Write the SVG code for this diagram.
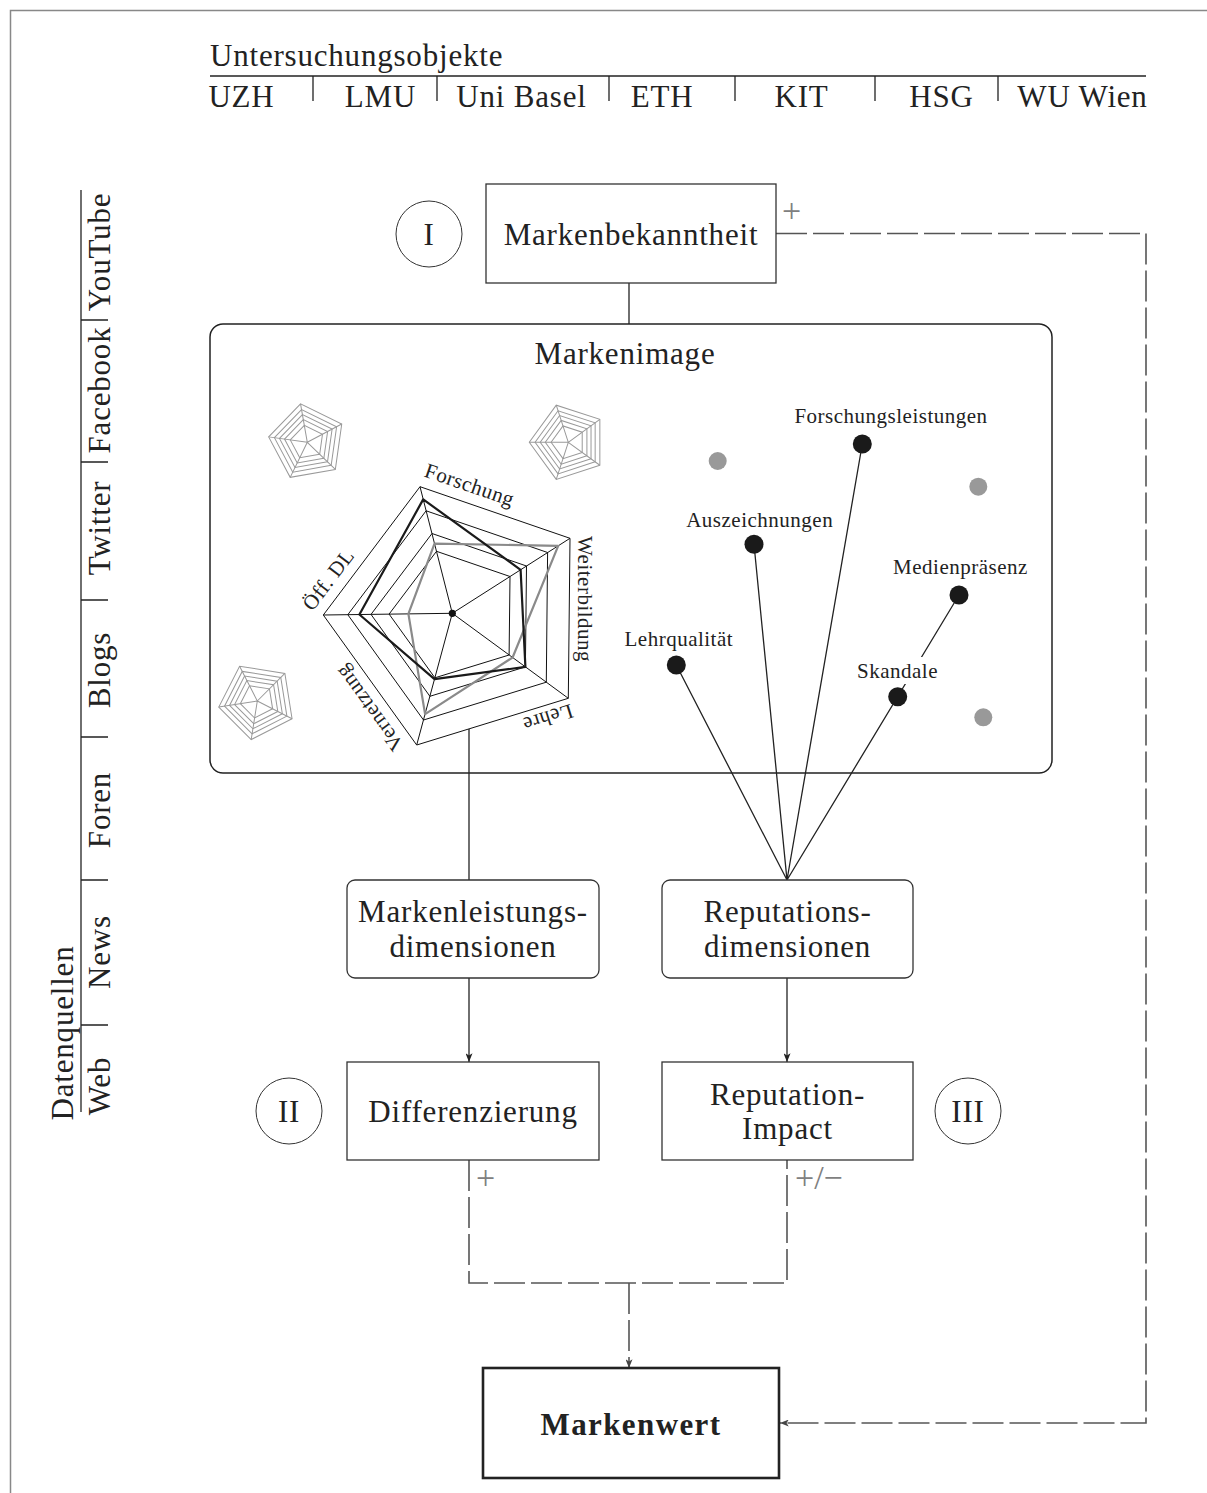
<svg xmlns="http://www.w3.org/2000/svg" width="1207" height="1493" viewBox="0 0 1207 1493">
  <defs>
    <style>
      text { font-family: "Liberation Serif", "Times New Roman", serif; fill: #222; }
      .lg { font-size: 31px; letter-spacing: 0.8px; }
      .sm { font-size: 21px; letter-spacing: 0.5px; }
      .mid { text-anchor: middle; }
      .bold { font-weight: bold; letter-spacing: 1.4px; }
      .ln { stroke: #222; stroke-width: 1.3; fill: none; }
      .dash { stroke: #555; stroke-width: 1.6; fill: none; stroke-dasharray: 31 6; }
      .box { fill: #fff; stroke: #333; stroke-width: 1.3; }
      .circ { fill: #fff; stroke: #333; stroke-width: 1; }
      .sign { fill: #808080; font-size: 34px; }
      .ring { fill: none; stroke: #111; stroke-width: 1; }
      .mini { fill: none; stroke: #999; stroke-width: 1; }
      .frame { fill: none; stroke: #888; stroke-width: 1.5; }
    </style>
    <marker id="ah" viewBox="0 0 10 8" refX="10" refY="4" markerWidth="9" markerHeight="7" orient="auto" markerUnits="userSpaceOnUse">
      <path d="M0,0 L10,4 L0,8 L2.5,4 z" fill="#222"/>
    </marker>
    <marker id="ahg" viewBox="0 0 10 8" refX="10" refY="4" markerWidth="9" markerHeight="7" orient="auto" markerUnits="userSpaceOnUse">
      <path d="M0,0 L10,4 L0,8 L2.5,4 z" fill="#444"/>
    </marker>
    <!-- small decorative spider chart, vertex at angle 0 -->
    <g id="miniRadar" class="mini">
      <polygon points="39,0 12.05,37.09 -31.55,22.93 -31.55,-22.93 12.05,-37.09"/>
      <polygon points="33.2,0 10.26,31.57 -26.86,19.52 -26.86,-19.52 10.26,-31.57"/>
      <polygon points="28.1,0 8.68,26.72 -22.73,16.52 -22.73,-16.52 8.68,-26.72"/>
      <polygon points="23,0 7.11,21.87 -18.61,13.52 -18.61,-13.52 7.11,-21.87"/>
      <polygon points="17.2,0 5.31,16.36 -13.91,10.11 -13.91,-10.11 5.31,-16.36"/>
      <path d="M0 0L39 0M0 0L12.05 37.09M0 0L-31.55 22.93M0 0L-31.55 -22.93M0 0L12.05 -37.09"/>
    </g>
  </defs>

  <rect width="1207" height="1493" fill="#fff"/>
  <path class="frame" d="M10.5 1493 V10.5 H1207"/>

  <!-- header: institutions -->
  <g id="untersuchungsobjekte">
    <text class="lg" x="210" y="66">Untersuchungsobjekte</text>
    <line class="ln" x1="210" y1="76" x2="1146" y2="76"/>
    <path class="ln" d="M313 76V101M437 76V101M609 76V101M735 76V101M875 76V101M998 76V101"/>
    <text class="lg mid" x="241.5" y="107">UZH</text>
    <text class="lg mid" x="380.5" y="107">LMU</text>
    <text class="lg mid" x="521.5" y="107">Uni Basel</text>
    <text class="lg mid" x="662" y="107">ETH</text>
    <text class="lg mid" x="801.5" y="107">KIT</text>
    <text class="lg mid" x="941.5" y="107">HSG</text>
    <text class="lg mid" x="1082.5" y="107">WU Wien</text>
  </g>

  <!-- left column: data sources -->
  <g id="datenquellen">
    <line class="ln" x1="81" y1="190" x2="81" y2="1112"/>
    <path class="ln" d="M81 320H108M81 462H108M81 600H108M81 737H108M81 880H108M81 1025H108"/>
    <text class="lg mid" transform="translate(73,1033) rotate(-90)">Datenquellen</text>
    <text class="lg mid" transform="translate(110,252) rotate(-90)">YouTube</text>
    <text class="lg mid" transform="translate(110,390) rotate(-90)">Facebook</text>
    <text class="lg mid" transform="translate(110,528) rotate(-90)">Twitter</text>
    <text class="lg mid" transform="translate(110,670) rotate(-90)">Blogs</text>
    <text class="lg mid" transform="translate(110,810) rotate(-90)">Foren</text>
    <text class="lg mid" transform="translate(110,952) rotate(-90)">News</text>
    <text class="lg mid" transform="translate(110,1086) rotate(-90)">Web</text>
  </g>

  <!-- connectors -->
  <g id="connectors">
    <line class="ln" x1="629" y1="283" x2="629" y2="324"/>
    <line class="ln" x1="469" y1="729" x2="469" y2="880"/>
    <path class="ln" d="M676.3 665L787 880M754 544.3L787 880M862.3 444L787 880M959 595L787 880"/>
    <line class="ln" x1="469" y1="978" x2="469" y2="1062" marker-end="url(#ah)"/>
    <line class="ln" x1="787" y1="978" x2="787" y2="1062" marker-end="url(#ah)"/>
    <path class="dash" d="M469 1160V1283H787V1160"/>
    <path class="dash" d="M629 1283V1368" marker-end="url(#ahg)"/>
    <path class="dash" d="M776 233.5H1146V1423H780" marker-end="url(#ahg)"/>
    <text class="sign" x="782" y="222">+</text>
    <text class="sign" x="476" y="1189">+</text>
    <text class="sign" x="795" y="1189">+/−</text>
  </g>

  <!-- brand awareness -->
  <g id="markenbekanntheit">
    <circle class="circ" cx="429" cy="234" r="33"/>
    <text class="lg mid" x="429" y="245">I</text>
    <rect class="box" x="486" y="184" width="290" height="99"/>
    <text class="lg mid" x="631" y="245">Markenbekanntheit</text>
  </g>

  <!-- brand image panel -->
  <g id="markenimage">
    <rect x="210" y="324" width="842" height="449" rx="13" fill="none" stroke="#222" stroke-width="1.5"/>
    <text class="lg mid" x="625" y="364">Markenimage</text>

    <use href="#miniRadar" transform="translate(307.3,442.3) rotate(44)"/>
    <use href="#miniRadar" transform="translate(568.3,442.3) rotate(36)"/>
    <use href="#miniRadar" transform="translate(257.3,701) rotate(27)"/>

    <!-- main spider chart -->
    <g id="spider">
      <polygon class="ring" points="420,486.7 570,538.3 568.3,698.3 416.7,745 323.3,615"/>
      <polygon class="ring" points="426.1,510.8 547.6,552.5 546.3,682.2 423.5,720 347.8,614.7"/>
      <polygon class="ring" points="432,533.5 526.5,566 525.4,666.9 429.9,696.3 371,614.4"/>
      <polygon class="ring" points="436.5,551.3 510,576.5 509.1,655 434.9,677.8 389.1,614.1"/>
      <path class="ring" d="M452.3 613.3L420 486.7M452.3 613.3L570 538.3M452.3 613.3L568.3 698.3M452.3 613.3L416.7 745M452.3 613.3L323.3 615"/>
      <polygon points="434.5,543.7 558.2,545.8 512.6,657.5 425.1,714.1 408.4,613.9" fill="none" stroke="#8a8a8a" stroke-width="2.2" stroke-linejoin="round"/>
      <polygon points="423.2,499.4 520.6,569.8 525.4,666.9 434.5,679.2 359.4,614.5" fill="none" stroke="#1a1a1a" stroke-width="2.2" stroke-linejoin="round"/>
      <circle cx="452.3" cy="613.3" r="3.6" fill="#111"/>
      <text class="sm mid" transform="translate(467.4,491.4) rotate(19)">Forschung</text>
      <text class="sm mid" transform="translate(578,599) rotate(90)">Weiterbildung</text>
      <text class="sm mid" transform="translate(546,711.3) rotate(162.7)">Lehre</text>
      <text class="sm mid" transform="translate(374.8,703.8) rotate(234)">Vernetzung</text>
      <text class="sm mid" transform="translate(333.9,583.7) rotate(-52.8)">Öff. DL</text>
    </g>

    <!-- reputation network -->
    <g id="reputation-net">
      <circle cx="717.7" cy="461" r="9" fill="#999"/>
      <circle cx="978.3" cy="486.7" r="9" fill="#999"/>
      <circle cx="983.3" cy="717.3" r="9" fill="#999"/>
      <circle cx="862.3" cy="444" r="9.5" fill="#1a1a1a"/>
      <circle cx="754" cy="544.3" r="9.5" fill="#1a1a1a"/>
      <circle cx="959" cy="595" r="9.5" fill="#1a1a1a"/>
      <circle cx="676.3" cy="665" r="9.5" fill="#1a1a1a"/>
      <circle cx="897.7" cy="696.7" r="9.5" fill="#1a1a1a"/>
      <text class="sm mid" x="891" y="423">Forschungsleistungen</text>
      <text class="sm mid" x="759.7" y="526.5">Auszeichnungen</text>
      <text class="sm mid" x="960.5" y="574">Medienpräsenz</text>
      <text class="sm mid" x="678.8" y="645.5">Lehrqualität</text>
      <rect x="852" y="657" width="91" height="27" fill="#fff"/>
      <text class="sm mid" x="897.5" y="677.5">Skandale</text>
    </g>
  </g>

  <g id="markenleistungsdimensionen">
    <rect class="box" x="347" y="880" width="252" height="98" rx="8"/>
    <text class="lg mid" x="473" y="922">Markenleistungs-</text>
    <text class="lg mid" x="473" y="957">dimensionen</text>
  </g>

  <g id="reputationsdimensionen">
    <rect class="box" x="662" y="880" width="251" height="98" rx="8"/>
    <text class="lg mid" x="787.5" y="922">Reputations-</text>
    <text class="lg mid" x="787.5" y="957">dimensionen</text>
  </g>

  <g id="differenzierung">
    <circle class="circ" cx="289" cy="1111" r="33"/>
    <text class="lg mid" x="289" y="1122">II</text>
    <rect class="box" x="347" y="1062" width="252" height="98"/>
    <text class="lg mid" x="473" y="1122">Differenzierung</text>
  </g>

  <g id="reputation-impact">
    <rect class="box" x="662" y="1062" width="251" height="98"/>
    <text class="lg mid" x="787.5" y="1105">Reputation-</text>
    <text class="lg mid" x="787.5" y="1139">Impact</text>
    <circle class="circ" cx="968" cy="1111" r="33"/>
    <text class="lg mid" x="968" y="1122">III</text>
  </g>

  <g id="markenwert">
    <rect x="483" y="1368" width="296" height="110" fill="#fff" stroke="#222" stroke-width="2.6"/>
    <text class="lg mid bold" x="631" y="1435">Markenwert</text>
  </g>
</svg>
